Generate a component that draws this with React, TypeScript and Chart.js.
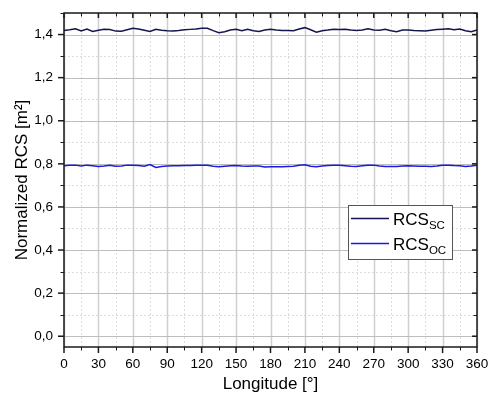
import React, { useEffect, useRef } from "react";
import { Chart, registerables } from "chart.js";

Chart.register(...registerables);

const LONGITUDE = [
  0, 5, 10, 15, 20, 25, 30, 35, 40, 45, 50, 55, 60, 65, 70, 75, 80, 85, 90, 95,
  100, 105, 110, 115, 120, 125, 130, 135, 140, 145, 150, 155, 160, 165, 170, 175,
  180, 185, 190, 195, 200, 205, 210, 215, 220, 225, 230, 235, 240, 245, 250, 255,
  260, 265, 270, 275, 280, 285, 290, 295, 300, 305, 310, 315, 320, 325, 330, 335,
  340, 345, 350, 355, 360,
];

const RCS_SC = [
  1.419, 1.422, 1.427, 1.417, 1.426, 1.414, 1.42, 1.424, 1.423, 1.416, 1.415, 1.422,
  1.429, 1.426, 1.42, 1.414, 1.424, 1.42, 1.418, 1.417, 1.419, 1.422, 1.424, 1.426,
  1.429, 1.429, 1.418, 1.408, 1.413, 1.421, 1.424, 1.418, 1.425, 1.418, 1.414, 1.421,
  1.424, 1.421, 1.419, 1.419, 1.418, 1.426, 1.432, 1.422, 1.411, 1.418, 1.421, 1.425,
  1.424, 1.425, 1.421, 1.419, 1.421, 1.427, 1.421, 1.42, 1.424, 1.418, 1.413, 1.421,
  1.421, 1.419, 1.418, 1.417, 1.42, 1.423, 1.425, 1.427, 1.422, 1.426, 1.418, 1.413,
  1.421,
];

const RCS_OC = [
  0.791, 0.793, 0.794, 0.79, 0.794, 0.791, 0.788, 0.79, 0.793, 0.789, 0.79, 0.794,
  0.793, 0.792, 0.789, 0.797, 0.783, 0.788, 0.79, 0.791, 0.791, 0.792, 0.792, 0.793,
  0.794, 0.793, 0.789, 0.787, 0.789, 0.791, 0.792, 0.79, 0.789, 0.79, 0.79, 0.785,
  0.786, 0.786, 0.787, 0.788, 0.789, 0.793, 0.796, 0.789, 0.786, 0.79, 0.792, 0.794,
  0.793, 0.791, 0.789, 0.788, 0.791, 0.793, 0.794, 0.79, 0.788, 0.788, 0.788, 0.79,
  0.791, 0.79, 0.789, 0.789, 0.788, 0.79, 0.793, 0.794, 0.792, 0.791, 0.788, 0.79,
  0.794,
];

const X_TICKS = [0, 30, 60, 90, 120, 150, 180, 210, 240, 270, 300, 330, 360];
const X_MINOR = [15, 45, 75, 105, 135, 165, 195, 225, 255, 285, 315, 345];
const Y_TICKS = [0, 0.2, 0.4, 0.6, 0.8, 1.0, 1.2, 1.4];
const Y_MINOR = [0.1, 0.3, 0.5, 0.7, 0.9, 1.1, 1.3, 1.5];

const SERIES_NAMES = ["RCS", "RCS"];
const SERIES_SUBS = ["SC", "OC"];
const COLORS = ["#14144f", "#1a1ae0"];
const X_TITLE = "Longitude [°]";
const Y_TITLE = "Normalized RCS [m²]";

const FONT = "'Liberation Sans', Arial, sans-serif";

const decor = {
  id: "decor",
  beforeDatasetsDraw(chart: any) {
    const { ctx, chartArea: a, scales } = chart;
    const xs = scales.x;
    const ys = scales.y;
    ctx.save();
    ctx.strokeStyle = "#dcdcdc";
    ctx.lineWidth = 1;
    ctx.setLineDash([2, 2]);
    X_MINOR.forEach((v) => {
      const px = Math.round(xs.getPixelForValue(v)) + 0.5;
      ctx.beginPath();
      ctx.moveTo(px, a.top);
      ctx.lineTo(px, a.bottom);
      ctx.stroke();
    });
    Y_MINOR.forEach((v) => {
      const py = Math.round(ys.getPixelForValue(v)) + 0.5;
      ctx.beginPath();
      ctx.moveTo(a.left, py);
      ctx.lineTo(a.right, py);
      ctx.stroke();
    });
    ctx.setLineDash([]);
    ctx.strokeStyle = "#cfcfcf";
    ctx.lineWidth = 1.5;
    X_TICKS.forEach((v) => {
      const px = Math.round(xs.getPixelForValue(v)) + 0.5;
      ctx.beginPath();
      ctx.moveTo(px, a.top);
      ctx.lineTo(px, a.bottom);
      ctx.stroke();
    });
    ctx.lineWidth = 1;
    ctx.strokeStyle = "#bdbdbd";
    Y_TICKS.forEach((v) => {
      const py = Math.round(ys.getPixelForValue(v)) + 0.5;
      ctx.beginPath();
      ctx.moveTo(a.left, py);
      ctx.lineTo(a.right, py);
      ctx.stroke();
    });
    ctx.restore();
  },
  afterDatasetsDraw(chart: any) {
    const { ctx, chartArea: a, scales } = chart;
    const xs = scales.x;
    const ys = scales.y;
    ctx.save();
    ctx.strokeStyle = "#1a1a1a";
    ctx.lineWidth = 1.5;
    ctx.strokeRect(a.left, a.top, a.right - a.left, a.bottom - a.top);
    const tick = (x1: number, y1: number, x2: number, y2: number) => {
      ctx.beginPath();
      ctx.moveTo(x1, y1);
      ctx.lineTo(x2, y2);
      ctx.stroke();
    };
    ctx.lineWidth = 1.5;
    X_TICKS.forEach((v) => {
      const px = xs.getPixelForValue(v);
      tick(px, a.bottom, px, a.bottom + 6);
      tick(px, a.top, px, a.top + 5);
    });
    ctx.lineWidth = 1;
    X_MINOR.forEach((v) => {
      const px = Math.round(xs.getPixelForValue(v)) + 0.5;
      tick(px, a.bottom, px, a.bottom + 3.5);
      tick(px, a.top, px, a.top + 3.5);
    });
    ctx.lineWidth = 1.5;
    Y_TICKS.forEach((v) => {
      const py = ys.getPixelForValue(v);
      tick(a.left - 6, py, a.left, py);
      tick(a.right - 5, py, a.right, py);
    });
    ctx.lineWidth = 1;
    Y_MINOR.forEach((v) => {
      const py = Math.round(ys.getPixelForValue(v)) + 0.5;
      tick(a.left - 3.5, py, a.left, py);
      tick(a.right - 3.5, py, a.right, py);
    });

    ctx.fillStyle = "#000";
    ctx.font = `17px ${FONT}`;
    ctx.textAlign = "center";
    ctx.textBaseline = "middle";
    ctx.fillText(X_TITLE, (a.left + a.right) / 2, 384);
    ctx.save();
    ctx.translate(22, (a.top + a.bottom) / 2);
    ctx.rotate(-Math.PI / 2);
    ctx.fillText(Y_TITLE, 0, 0);
    ctx.restore();

    const lx = 348;
    const ly = 205;
    const lw = 104;
    const lh = 54;
    ctx.fillStyle = "#fff";
    ctx.fillRect(lx, ly, lw, lh);
    ctx.strokeStyle = "#555";
    ctx.lineWidth = 1;
    ctx.strokeRect(lx + 0.5, ly + 0.5, lw, lh);
    SERIES_NAMES.forEach((name, i) => {
      const cy = ly + 13.5 + i * 25;
      ctx.strokeStyle = COLORS[i];
      ctx.lineWidth = 1.5;
      ctx.beginPath();
      ctx.moveTo(lx + 3, cy);
      ctx.lineTo(lx + 41, cy);
      ctx.stroke();
      ctx.fillStyle = "#000";
      ctx.textAlign = "left";
      ctx.textBaseline = "alphabetic";
      ctx.font = `17px ${FONT}`;
      ctx.fillText(name, lx + 45, cy + 6);
      const w = ctx.measureText(name).width;
      ctx.font = `11.5px ${FONT}`;
      ctx.fillText(SERIES_SUBS[i], lx + 45 + w, cy + 10);
    });
    ctx.restore();
  },
};

export default function App() {
  const ref = useRef<HTMLCanvasElement>(null);
  useEffect(() => {
    document.body.style.margin = "0";
    const canvas = ref.current!;
    const chart = new Chart(canvas, {
      type: "line",
      data: {
        datasets: [RCS_SC, RCS_OC].map((arr, i) => ({
          label: SERIES_NAMES[i] + SERIES_SUBS[i],
          data: LONGITUDE.map((x, j) => ({ x, y: arr[j] })),
          borderColor: COLORS[i],
          borderWidth: 1.5,
          pointRadius: 0,
          tension: 0,
          fill: false,
        })),
      },
      options: {
        responsive: false,
        animation: false,
        layout: { padding: { top: 13, right: 14, left: 0, bottom: 0 } },
        plugins: { legend: { display: false }, tooltip: { enabled: false } },
        scales: {
          x: {
            type: "linear",
            min: 0,
            max: 360,
            grid: { display: false, drawTicks: false },
            border: { display: false },
            afterBuildTicks: (s: any) => {
              s.ticks = X_TICKS.map((v) => ({ value: v }));
            },
            afterFit: (s: any) => {
              s.height = 52;
              s.paddingLeft = 0;
              s.paddingRight = 0;
              s.paddingTop = 0;
              s.paddingBottom = 0;
            },
            ticks: {
              color: "#000",
              font: { family: FONT, size: 13.5 },
              padding: 9,
              maxRotation: 0,
              autoSkip: false,
              callback: (v: any) => String(v),
            },
          },
          y: {
            type: "linear",
            min: -0.05,
            max: 1.5,
            grid: { display: false, drawTicks: false },
            border: { display: false },
            afterBuildTicks: (s: any) => {
              s.ticks = Y_TICKS.map((v) => ({ value: v }));
            },
            afterFit: (s: any) => {
              s.width = 64;
              s.paddingLeft = 0;
              s.paddingRight = 0;
              s.paddingTop = 0;
              s.paddingBottom = 0;
            },
            ticks: {
              color: "#000",
              font: { family: FONT, size: 13.5 },
              padding: 11,
              autoSkip: false,
              callback: (v: any) => Number(v).toFixed(1).replace(".", ","),
            },
          },
        },
      } as any,
      plugins: [decor],
    });
    return () => chart.destroy();
  }, []);
  return (
    <div style={{ width: 491, height: 399 }}>
      <canvas ref={ref} width={491} height={399} style={{ display: "block" }} />
    </div>
  );
}
